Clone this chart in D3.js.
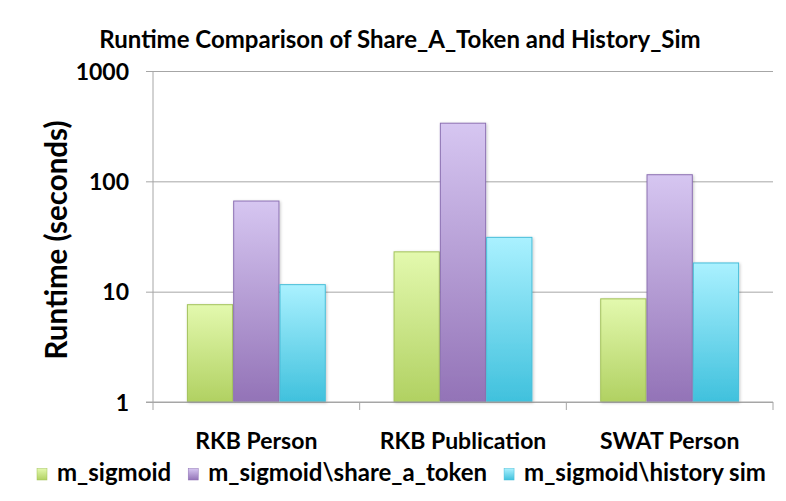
<!DOCTYPE html>
<html>
<head>
<meta charset="utf-8">
<script src="https://cdn.jsdelivr.net/npm/d3@7"></script>
<style>
  body { margin: 0; background: #fff; }
  text { font-family: Lato, "Open Sans", sans-serif; font-weight: 700; fill: #000; }
</style>
</head>
<body>
<div id="root"></div>
<script>
var categories = ["RKB Person", "RKB Publication", "SWAT Person"];
var seriesNames = ["m_sigmoid", "m_sigmoid\\share_a_token", "m_sigmoid\\history sim"];
var sigmoidValues = [7.7, 23.2, 8.7];
var shareTokenValues = [67, 340, 116];
var historySimValues = [11.7, 31.4, 18.4];
var yTicks = [1, 10, 100, 1000];

var seriesValues = [sigmoidValues, shareTokenValues, historySimValues];
var colors = [
    {top: "#e3f9ae", bottom: "#b1d162", stroke: "#a2c25a"},
    {top: "#d6c6f1", bottom: "#9373b7", stroke: "#8c70b2"},
    {top: "#aaf1ff", bottom: "#40c1dd", stroke: "#47bdd8"}
];

var data = categories.map(function (c, i) {
    return {
        name: c,
        values: seriesNames.map(function (s, j) {
            return {series: j, value: seriesValues[j][i]};
        })
    };
});

var W = 786, H = 501;
var plot = {left: 153, right: 773, top: 71, bottom: 402};
var gridColor = "#a6a6a6";

var svg = d3.select("#root").append("svg")
    .attr("width", W)
    .attr("height", H);

var defs = svg.append("defs");
colors.forEach(function (c, i) {
    var g = defs.append("linearGradient")
        .attr("id", "grad" + i)
        .attr("x1", 0).attr("y1", 0).attr("x2", 0).attr("y2", 1);
    g.append("stop").attr("offset", "0%").attr("stop-color", c.top);
    g.append("stop").attr("offset", "100%").attr("stop-color", c.bottom);
});
var shadow = defs.append("filter").attr("id", "shadow")
    .attr("x", "-20%").attr("y", "-20%").attr("width", "140%").attr("height", "140%");
shadow.append("feDropShadow")
    .attr("dx", 1).attr("dy", 1).attr("stdDeviation", 1.5)
    .attr("flood-color", "#000").attr("flood-opacity", 0.22);

var y = d3.scaleLog()
    .domain([1, 1000])
    .range([plot.bottom, plot.top]);

var x0 = d3.scaleBand()
    .domain(categories)
    .range([plot.left, plot.right]);

var x1 = d3.scaleBand()
    .domain(d3.range(seriesNames.length))
    .range([0, x0.bandwidth()])
    .paddingOuter(0.732);

// title
svg.append("text")
    .attr("x", 400)
    .attr("y", 48)
    .attr("text-anchor", "middle")
    .style("font-size", "24px")
    .text("Runtime Comparison of Share_A_Token and History_Sim");

// gridlines + y axis
var yAxis = d3.axisLeft(y)
    .tickValues(yTicks)
    .tickFormat(d3.format("d"))
    .tickSize(-(plot.right - plot.left))
    .tickSizeOuter(0);

var gy = svg.append("g")
    .attr("transform", "translate(" + plot.left + ",0)")
    .call(yAxis);
gy.select(".domain").remove();
gy.selectAll(".tick line")
    .attr("x1", -7)
    .attr("stroke", gridColor);
gy.selectAll(".tick text")
    .attr("x", -24)
    .attr("dy", "0.36em")
    .style("font-size", "23px");
svg.append("line")
    .attr("x1", plot.left).attr("x2", plot.left)
    .attr("y1", plot.top).attr("y2", plot.bottom)
    .attr("stroke", gridColor);

// y axis title
svg.append("text")
    .attr("transform", "translate(67,240) rotate(-90)")
    .attr("text-anchor", "middle")
    .style("font-size", "29.5px")
    .text("Runtime (seconds)");

// bars
var groups = svg.selectAll(".group")
    .data(data)
    .enter()
    .append("g")
    .attr("class", "group")
    .attr("transform", function (d) {
        return "translate(" + x0(d.name) + ",0)";
    });

groups.selectAll("rect")
    .data(function (d) { return d.values; })
    .enter()
    .append("rect")
    .attr("x", function (d) { return x1(d.series) + 0.5; })
    .attr("y", function (d) { return y(d.value) + 0.5; })
    .attr("width", x1.bandwidth() - 1)
    .attr("height", function (d) { return plot.bottom - y(d.value) - 1; })
    .attr("fill", function (d) { return "url(#grad" + d.series + ")"; })
    .attr("stroke", function (d) { return colors[d.series].stroke; })
    .attr("filter", "url(#shadow)");

// x axis
var xAxis = d3.axisBottom(x0).tickSize(0).tickPadding(0);
var gx = svg.append("g")
    .attr("transform", "translate(0," + plot.bottom + ")")
    .call(xAxis);
gx.select(".domain").remove();
gx.selectAll(".tick text")
    .attr("y", 47)
    .attr("dy", 0)
    .style("font-size", "23px");

svg.append("line")
    .attr("x1", plot.left - 7).attr("x2", plot.right)
    .attr("y1", plot.bottom).attr("y2", plot.bottom)
    .attr("stroke", gridColor);

svg.selectAll(".xtick")
    .data(categories.concat([null]))
    .enter()
    .append("line")
    .attr("class", "xtick")
    .attr("x1", function (d) { return d === null ? plot.right : x0(d); })
    .attr("x2", function (d) { return d === null ? plot.right : x0(d); })
    .attr("y1", plot.bottom)
    .attr("y2", plot.bottom + 8)
    .attr("stroke", gridColor);

// legend
var lx = 37;
seriesNames.forEach(function (s, i) {
    svg.append("rect")
        .attr("x", lx).attr("y", 468.5)
        .attr("width", 10).attr("height", 11.5)
        .attr("fill", "url(#grad" + i + ")")
        .attr("stroke", colors[i].stroke)
        .attr("stroke-width", 0.5);
    var t = svg.append("text")
        .attr("x", lx + 20)
        .attr("y", 481)
        .style("font-size", "24px")
        .text(s);
    lx += 20 + t.node().getComputedTextLength() + 17;
});
</script>
</body>
</html>
